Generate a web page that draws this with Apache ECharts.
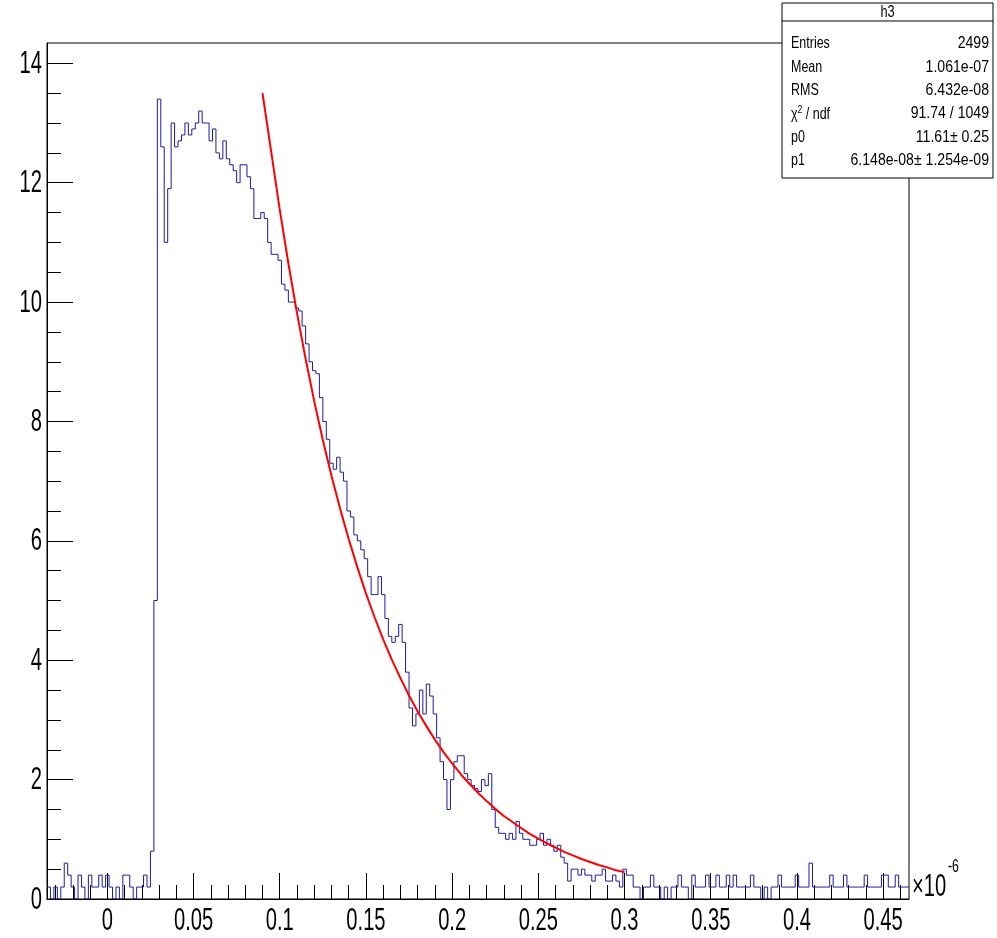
<!DOCTYPE html>
<html><head><meta charset="utf-8">
<script src="https://cdn.jsdelivr.net/npm/echarts@6/dist/echarts.min.js"></script>
<style>html,body{margin:0;padding:0;background:#fff}#c{width:997px;height:938px}</style>
</head><body><div id="c"></div>
<script>
// histogram h3 : bins of 0.002 (x 1e-6) starting at -0.035
const binMin = -0.035;
const binWidth = 0.002;
const histValues = [
 0.2,0,0.2,0,0.2,0.6,0.4,0.2,0,0.4,
 0.2,0,0.4,0.2,0.2,0.4,0.2,0.4,0.2,0,
 0.2,0,0.4,0.4,0.2,0,0.2,0.2,0.4,0.2,
 0.8,5.0,13.4,12.6,11.0,11.9,13.0,12.6,12.7,12.8,
 13.0,12.8,12.9,13.0,13.2,13.0,13.0,12.7,12.9,12.5,
 12.4,12.7,12.4,12.3,12.2,12.0,12.3,12.3,12.1,11.9,
 11.4,11.4,11.5,11.4,11.0,10.8,10.8,10.7,10.3,10.2,
 10.0,10.0,9.9,9.85,9.6,9.3,9.0,8.85,8.8,8.4,
 8.0,7.7,7.3,7.2,7.4,7.15,7.0,6.5,6.4,6.1,
 6.0,5.85,5.7,5.4,5.1,5.1,5.4,5.1,4.7,4.4,
 4.3,4.4,4.6,4.3,3.8,3.2,2.9,3.1,3.5,3.1,
 3.6,3.4,3.1,2.7,2.3,2.0,1.5,2.0,2.3,2.4,
 2.4,2.1,2.0,1.9,1.85,1.8,2.0,1.9,2.1,1.5,
 1.2,1.1,1.1,1.0,1.1,1.0,1.3,1.1,1.0,1.0,
 0.9,0.9,1.0,1.1,0.9,1.0,0.9,0.8,0.9,0.7,
 0.6,0.3,0.5,0.5,0.4,0.5,0.4,0.4,0.3,0.4,
 0.4,0.5,0.3,0.3,0.4,0.3,0.2,0.5,
 0.4,0.4,0.2,0.2,0,0.2,0.2,0.4,0.2,0.2,
 0,0.2,0,0.2,0.2,0.4,0.2,0.2,0,0.4,
 0.2,0.2,0.2,0.4,0.2,0.2,0.4,0.2,0.2,0.4,
 0.2,0.4,0.2,0.2,0.2,0.2,0.4,0.2,0.2,0,
 0.2,0,0.2,0.2,0.4,0.2,0.2,0.2,0.2,0.4,
 0.2,0.2,0.2,0.6,0.2,0.2,0.2,0.2,0.2,0.4,
 0.2,0.2,0.2,0.4,0.2,0.2,0.2,0.2,0.2,0.4,
 0.2,0.2,0.2,0.2,0.4,0.4,0.2,0.2,0.4,0.2,
 0.2,0.2
];
// fitted exponential (red)
const fitX = [0.090,0.095,0.100,0.105,0.110,0.115,0.120,0.125,0.130,0.135,
 0.140,0.145,0.150,0.155,0.160,0.165,0.170,0.175,0.180,0.185,
 0.190,0.195,0.200,0.205,0.210,0.215,0.220,0.225,0.230,0.235,
 0.240,0.245,0.250,0.255,0.260,0.265,0.270,0.275,0.280,0.285,
 0.290,0.295,0.300];
const fitY = [13.50,12.53,11.55,10.65,9.82,9.05,8.34,7.69,7.09,6.54,
 6.03,5.56,5.12,4.72,4.35,4.01,3.70,3.41,3.14,2.90,
 2.67,2.46,2.27,2.09,1.93,1.78,1.64,1.51,1.39,1.29,
 1.19,1.09,1.01,0.93,0.86,0.79,0.73,0.67,0.62,0.57,
 0.53,0.48,0.45];
const xMajorTicks = [0,0.05,0.1,0.15,0.2,0.25,0.3,0.35,0.4,0.45];
const xTickLabels = ['0','0.05','0.1','0.15','0.2','0.25','0.3','0.35','0.4','0.45'];
const xMinorTicks = [-0.03,-0.02,-0.01,0.01,0.02,0.03,0.04,0.06,0.07,0.08,0.09,0.11,0.12,0.13,0.14,
 0.16,0.17,0.18,0.19,0.21,0.22,0.23,0.24,0.26,0.27,0.28,0.29,0.31,0.32,0.33,0.34,
 0.36,0.37,0.38,0.39,0.41,0.42,0.43,0.44,0.46];
const yMajorTicks = [0,2,4,6,8,10,12,14];
const yTickLabels = ['0','2','4','6','8','10','12','14'];
const yMinorTicks = [0.5,1,1.5,2.5,3,3.5,4.5,5,5.5,6.5,7,7.5,8.5,9,9.5,10.5,11,11.5,12.5,13,13.5];
const xExponentBase = '×10';
const xExponent = '-6';
const statsTitle = 'h3';
const statsNames = ['Entries','Mean','RMS','χ2 / ndf','p0','p1'];
const statsValues = ['2499','1.061e-07','6.432e-08','91.74 / 1049','11.61± 0.25','6.148e-08± 1.254e-09'];

const X_MIN = -0.035, X_MAX = 0.465, Y_MIN = 0, Y_MAX = 14.34;
const FONT = "'Liberation Sans',Arial,sans-serif";
const LABEL_FONT = '31px ' + FONT;
const LABEL_SX = 0.65;

const histData = histValues.map((v, i) => [binMin + i * binWidth, v]);
histData.push([binMin + histValues.length * binWidth, histValues[histValues.length - 1]]);
const fitData = fitX.map((x, i) => [x, fitY[i]]);

const chart = echarts.init(document.getElementById('c'), null, {renderer: 'canvas'});

const statsEls = [];
const boxL = 782, boxT = 3, boxW = 211, boxH = 175, rowH = 23.3;
statsEls.push({type: 'rect', shape: {x: boxL, y: boxT, width: boxW, height: boxH},
  style: {fill: '#fff', stroke: '#000', lineWidth: 1}});
statsEls.push({type: 'line', shape: {x1: boxL, y1: 21, x2: boxL + boxW, y2: 21},
  style: {stroke: '#000', lineWidth: 1}});
statsEls.push({type: 'text', x: boxL + boxW / 2, y: 12.5, scaleX: 0.8,
  style: {text: statsTitle, font: '16px ' + FONT, fill: '#000', align: 'center', verticalAlign: 'middle'}});
statsNames.forEach((n, i) => {
  const cy = 44 + i * rowH;
  let nameStyle;
  if (n.indexOf('χ2') === 0) {
    nameStyle = {text: '{a|χ}{s|2}{a| / ndf}', align: 'left', verticalAlign: 'middle',
      rich: {a: {fontSize: 16, fontFamily: FONT, fill: '#000', lineHeight: 18, verticalAlign: 'bottom'},
             s: {fontSize: 11, fontFamily: FONT, fill: '#000', lineHeight: 12, verticalAlign: 'top'}}};
  } else {
    nameStyle = {text: n, font: '16px ' + FONT, fill: '#000', align: 'left', verticalAlign: 'middle'};
  }
  statsEls.push({type: 'text', x: boxL + 9, y: cy, scaleX: 0.78, style: nameStyle});
  statsEls.push({type: 'text', x: boxL + boxW - 4, y: cy, scaleX: 0.88,
    style: {text: statsValues[i], font: '16px ' + FONT, fill: '#000', align: 'right', verticalAlign: 'middle'}});
});

chart.setOption({
  animation: false,
  backgroundColor: '#fff',
  grid: {left: 47, right: 88, top: 43, bottom: 39, show: true, borderColor: '#000', borderWidth: 1, backgroundColor: 'transparent'},
  xAxis: [{
    type: 'value', min: X_MIN, max: X_MAX, position: 'bottom',
    axisLine: {show: true, onZero: false, lineStyle: {color: '#000', width: 1}},
    axisTick: {show: true, inside: true, length: 26, customValues: xMajorTicks, lineStyle: {color: '#000'}},
    axisLabel: {show: false},
    splitLine: {show: false}
  }, {
    type: 'value', min: X_MIN, max: X_MAX, position: 'bottom', gridIndex: 0,
    axisLine: {show: false, onZero: false},
    axisTick: {show: true, inside: true, length: 14, customValues: xMinorTicks, lineStyle: {color: '#000'}},
    axisLabel: {show: false},
    splitLine: {show: false}
  }],
  yAxis: [{
    type: 'value', min: Y_MIN, max: Y_MAX, position: 'left',
    axisLine: {show: true, onZero: false, lineStyle: {color: '#000', width: 1}},
    axisTick: {show: true, inside: true, length: 26, customValues: yMajorTicks, lineStyle: {color: '#000'}},
    axisLabel: {show: false},
    splitLine: {show: false}
  }, {
    type: 'value', min: Y_MIN, max: Y_MAX, position: 'left', gridIndex: 0,
    axisLine: {show: false, onZero: false},
    axisTick: {show: true, inside: true, length: 14, customValues: yMinorTicks, lineStyle: {color: '#000'}},
    axisLabel: {show: false},
    splitLine: {show: false}
  }],
  series: [{
    name: 'h3', type: 'line', xAxisIndex: 0, yAxisIndex: 0,
    data: histData, step: 'end', showSymbol: false, symbol: 'none',
    lineStyle: {color: '#1c1ca0', width: 1}, clip: true, z: 2
  }, {
    name: 'fit', type: 'line', xAxisIndex: 0, yAxisIndex: 0,
    data: fitData, smooth: false, showSymbol: false, symbol: 'none',
    lineStyle: {color: '#ff0000', width: 2}, z: 3
  }, {
    name: 'xTickLabels', type: 'custom', xAxisIndex: 0, yAxisIndex: 0, silent: true, clip: false,
    data: xMajorTicks.map(v => [v, Y_MIN]),
    renderItem: (params, api) => {
      const p = api.coord([api.value(0), api.value(1)]);
      return {type: 'text', x: p[0], y: p[1] + 22.5, scaleX: LABEL_SX,
        style: {text: xTickLabels[params.dataIndex], font: LABEL_FONT, fill: '#000', align: 'center', verticalAlign: 'middle'}};
    }
  }, {
    name: 'yTickLabels', type: 'custom', xAxisIndex: 0, yAxisIndex: 0, silent: true, clip: false,
    data: yMajorTicks.map(v => [X_MIN, v]),
    renderItem: (params, api) => {
      const p = api.coord([api.value(0), api.value(1)]);
      return {type: 'text', x: p[0] - 5, y: p[1] + 1, scaleX: LABEL_SX,
        style: {text: yTickLabels[params.dataIndex], font: LABEL_FONT, fill: '#000', align: 'right', verticalAlign: 'middle'}};
    }
  }, {
    name: 'xExponent', type: 'custom', xAxisIndex: 0, yAxisIndex: 0, silent: true, clip: false,
    data: [[X_MAX, Y_MIN]],
    renderItem: (params, api) => {
      const p = api.coord([api.value(0), api.value(1)]);
      return {type: 'group', children: [
        {type: 'text', x: p[0] + 3, y: p[1] - 12, scaleX: LABEL_SX,
          style: {text: xExponentBase, font: LABEL_FONT, fill: '#000', align: 'left', verticalAlign: 'middle'}},
        {type: 'text', x: p[0] + 39, y: p[1] - 32, scaleX: LABEL_SX,
          style: {text: xExponent, font: '19px ' + FONT, fill: '#000', align: 'left', verticalAlign: 'middle'}}
      ]};
    }
  }],
  graphic: [{type: 'group', z: 100, children: statsEls}]
});
</script></body></html>
